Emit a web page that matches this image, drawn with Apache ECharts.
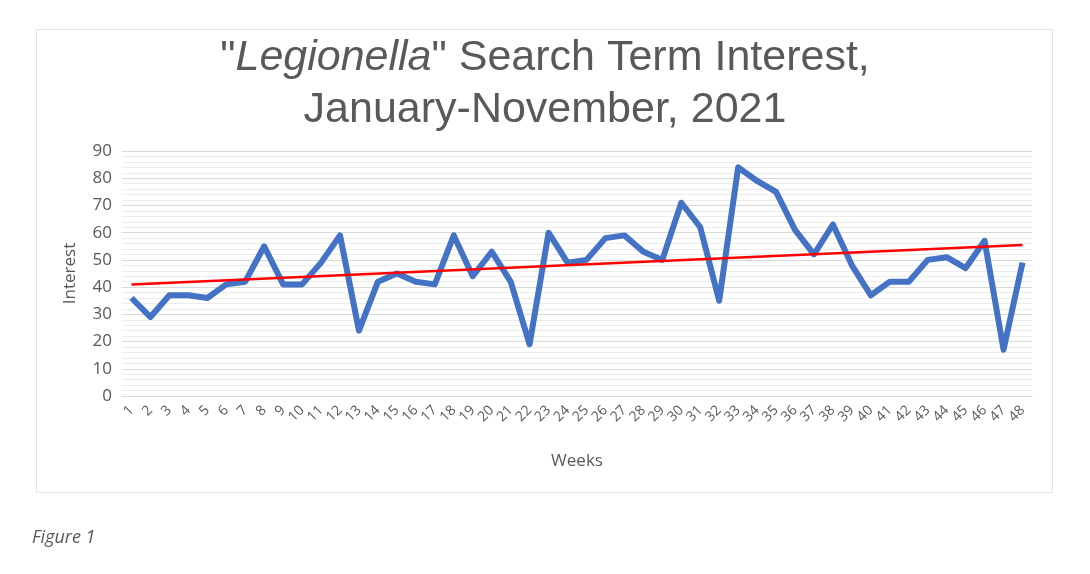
<!DOCTYPE html>
<html>
<head>
<meta charset="utf-8">
<style>
  html, body { margin: 0; padding: 0; background: #ffffff; }
  #chart { width: 1090px; height: 574px; }
</style>
<script src="https://cdn.jsdelivr.net/npm/echarts@6/dist/echarts.min.js"></script>
</head>
<body>
<div id="chart"></div>
<script>
// ---- data ----
const weeks = ['1','2','3','4','5','6','7','8','9','10','11','12','13','14','15','16','17','18','19','20','21','22','23','24','25','26','27','28','29','30','31','32','33','34','35','36','37','38','39','40','41','42','43','44','45','46','47','48'];
const interest = [36,29,37,37,36,41,42,55,41,41,49,59,24,42,45,42,41,59,44,53,42,19,60,49,50,58,59,53,50,71,62,35,84,79,75,61,52,63,48,37,42,42,50,51,47,57,17,49];
const trendStart = 41;   // trend line value at week 1
const trendEnd = 55.5;   // trend line value at week 48
const yTicks = [0, 10, 20, 30, 40, 50, 60, 70, 80, 90];

const trend = weeks.map((w, i) => i === 0 ? trendStart : (i === weeks.length - 1 ? trendEnd : null));

const chart = echarts.init(document.getElementById('chart'));
chart.setOption({
  animation: false,
  backgroundColor: '#ffffff',
  title: {
    text: '"{i|Legionella}" Search Term Interest,\nJanuary-November, 2021',
    left: 'center',
    top: 27,
    textStyle: {
      fontFamily: 'Liberation Sans, Arial, sans-serif',
      fontSize: 43,
      fontWeight: 'normal',
      color: '#595959',
      lineHeight: 52,
      rich: {
        i: {
          fontFamily: 'Liberation Sans, Arial, sans-serif',
          fontSize: 43,
          fontStyle: 'italic',
          color: '#595959',
          lineHeight: 52
        }
      }
    }
  },
  graphic: [
    {
      type: 'rect',
      shape: { x: 36.5, y: 29.5, width: 1016, height: 463 },
      style: { fill: 'none', stroke: '#e3e3e3', lineWidth: 1 },
      silent: true
    },
    {
      type: 'text',
      left: 32,
      top: 529,
      style: {
        text: 'Figure 1',
        fontFamily: 'Open Sans, sans-serif',
        fontStyle: 'italic',
        fontSize: 18,
        fill: '#595959'
      }
    }
  ],
  grid: { left: 122, right: 58, top: 151, bottom: 178, containLabel: false },
  xAxis: {
    type: 'category',
    data: weeks,
    boundaryGap: true,
    name: 'Weeks',
    nameLocation: 'middle',
    nameGap: 57,
    nameTextStyle: { fontFamily: 'Open Sans, sans-serif', fontSize: 17, color: '#595959' },
    axisLine: { show: true, lineStyle: { color: '#d9d9d9' } },
    axisTick: { show: false },
    axisLabel: {
      interval: 0,
      rotate: 45,
      margin: 12,
      fontFamily: 'Open Sans, sans-serif',
      fontSize: 14,
      color: '#595959'
    },
    splitLine: { show: false }
  },
  yAxis: {
    type: 'value',
    min: yTicks[0],
    max: yTicks[yTicks.length - 1],
    interval: 10,
    name: 'Interest',
    nameLocation: 'middle',
    nameGap: 43,
    nameTextStyle: { fontFamily: 'Open Sans, sans-serif', fontSize: 17, color: '#595959' },
    axisLine: { show: false },
    axisTick: { show: false },
    axisLabel: {
      margin: 10,
      fontFamily: 'Open Sans, sans-serif',
      fontSize: 17,
      color: '#595959'
    },
    splitLine: { show: true, lineStyle: { color: '#d9d9d9', width: 1 } },
    minorTick: { show: false, splitNumber: 5 },
    minorSplitLine: { show: true, lineStyle: { color: '#ececec', width: 1 } }
  },
  series: [
    {
      name: 'Interest',
      type: 'line',
      data: interest,
      symbol: 'none',
      lineStyle: { color: '#4472C4', width: 6, join: 'round' },
      z: 2
    },
    {
      name: 'Trend',
      type: 'line',
      data: trend,
      connectNulls: true,
      symbol: 'none',
      lineStyle: { color: '#FF0000', width: 2.5 },
      z: 3
    }
  ]
});
</script>
</body>
</html>
